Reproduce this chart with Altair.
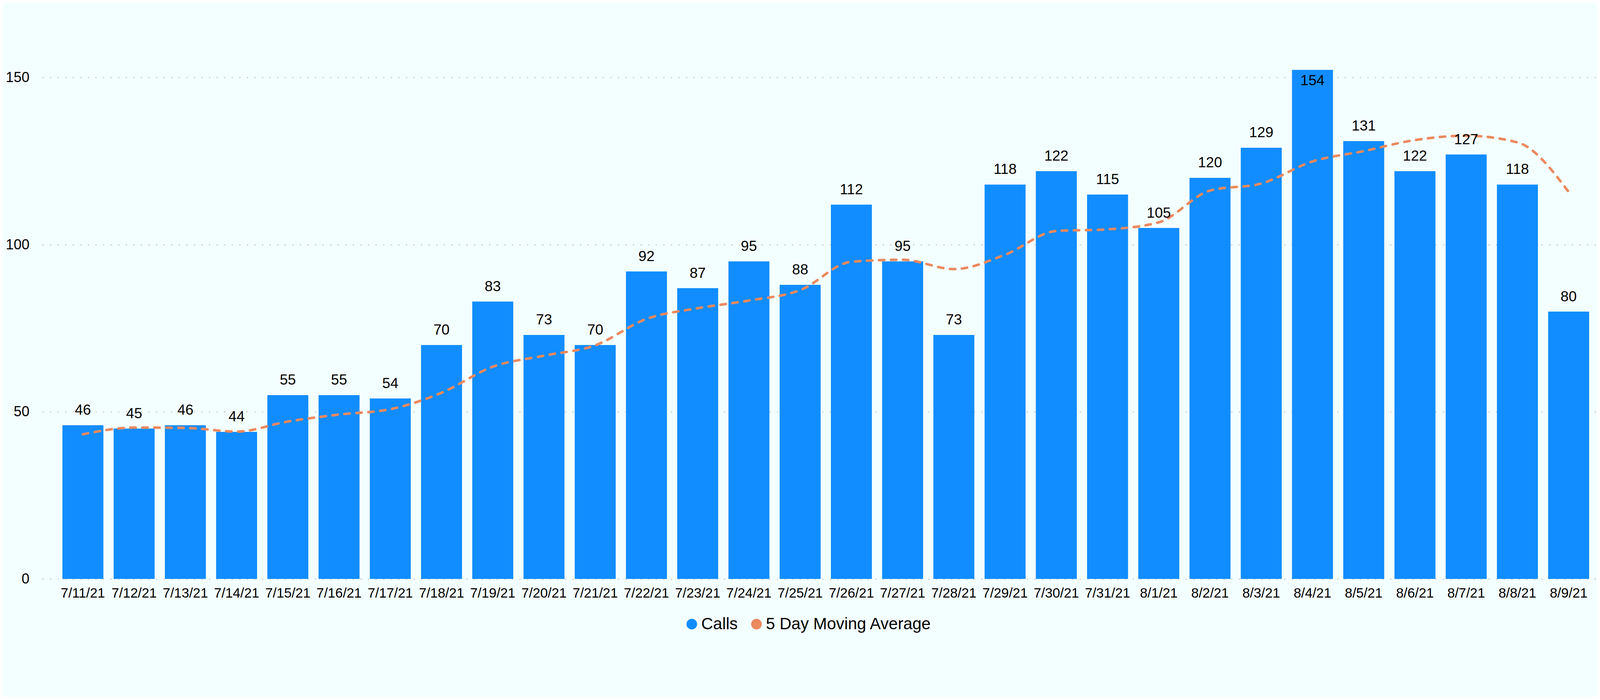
import altair as alt
import pandas as pd

# ---- data ----
dates = ["7/11/21", "7/12/21", "7/13/21", "7/14/21", "7/15/21", "7/16/21", "7/17/21",
         "7/18/21", "7/19/21", "7/20/21", "7/21/21", "7/22/21", "7/23/21", "7/24/21",
         "7/25/21", "7/26/21", "7/27/21", "7/28/21", "7/29/21", "7/30/21", "7/31/21",
         "8/1/21", "8/2/21", "8/3/21", "8/4/21", "8/5/21", "8/6/21", "8/7/21", "8/8/21",
         "8/9/21"]
calls = [46, 45, 46, 44, 55, 55, 54, 70, 83, 73, 70, 92, 87, 95, 88, 112, 95, 73,
         118, 122, 115, 105, 120, 129, 154, 131, 122, 127, 118, 80]
moving_avg = [43.3, 45.3, 45.2, 44.1, 47.1, 49.2, 50.8, 55.7, 63.5, 66.8, 69.9, 77.8,
              81.0, 83.3, 86.4, 94.9, 95.5, 92.7, 97.0, 104.1, 104.6, 106.7, 116.2,
              118.3, 124.9, 128.0, 131.3, 132.6, 130.6, 115.8]
series_names = ["Calls", "5 Day Moving Average"]
y_ticks = [0, 50, 100, 150]

BLUE = "#118DFF"
ORANGE = "#EB895F"
BG = "#F3FFFE"
FONT = "Liberation Sans"
Y_MAX = 152.3

df = pd.DataFrame({"date": dates, "calls": calls, "ma": moving_avg})
df["series"] = series_names[0]

x_axis = alt.Axis(title=None, labelAngle=0, labelFontSize=43, labelFont=FONT,
                  labelColor="#000000", labelPadding=24, domain=False, ticks=False,
                  grid=False)
y_axis = alt.Axis(title=None, values=y_ticks, labelFontSize=45, labelFont=FONT,
                  labelColor="#000000", labelPadding=41, domain=False, ticks=False,
                  grid=True, gridColor="#C4C4C4", gridDash=[4, 20], gridWidth=3)
x_scale = alt.Scale(paddingInner=0.2, paddingOuter=0.26, align=0.757)
y_scale = alt.Scale(domain=[0, Y_MAX], nice=False, zero=True)


def xe():
    return alt.X("date:N", sort=dates, scale=x_scale, axis=x_axis)


def ye(field):
    return alt.Y(field, scale=y_scale, axis=y_axis)


base = alt.Chart(df)

bars = base.mark_bar(clip=True).encode(
    x=xe(),
    y=ye("calls:Q"),
    color=alt.Color("series:N",
                    scale=alt.Scale(domain=series_names, range=[BLUE, ORANGE]),
                    legend=alt.Legend(title=None, orient="none", legendX=2033,
                                      legendY=1730, direction="horizontal",
                                      symbolType="circle", symbolSize=1134,
                                      symbolStrokeWidth=0, symbolOpacity=1,
                                      labelFontSize=52, labelFont=FONT,
                                      labelColor="#000000", labelOffset=4,
                                      labelLimit=0, columnPadding=33, padding=0)),
)

line = base.mark_line(color=ORANGE, strokeWidth=8, strokeDash=[17, 21],
                      strokeCap="round", interpolate="monotone").encode(
    x=xe(),
    y=ye("ma:Q"),
)

labels = base.transform_filter(f"datum.calls <= {Y_MAX}").mark_text(
    fontSize=46, font=FONT, color="#000000", baseline="alphabetic", dy=-33
).encode(
    x=xe(),
    y=ye("calls:Q"),
    text="calls:Q",
)

labels_in = base.transform_filter(f"datum.calls > {Y_MAX}").transform_calculate(
    ly=f"min(datum.calls, {Y_MAX})"
).mark_text(
    fontSize=46, font=FONT, color="#000000", baseline="alphabetic", dy=49
).encode(
    x=xe(),
    y=ye("ly:Q"),
    text="calls:Q",
)

chart = alt.layer(bars, line, labels, labels_in).properties(
    width=4924,
    height=1613,
    autosize=alt.AutoSizeParams(type="none"),
    padding={"left": 124, "top": 0, "right": 4, "bottom": 162},
    background=BG,
).configure_view(stroke=None)

chart.save("out.html", embed_options={"renderer": "svg", "actions": False})
